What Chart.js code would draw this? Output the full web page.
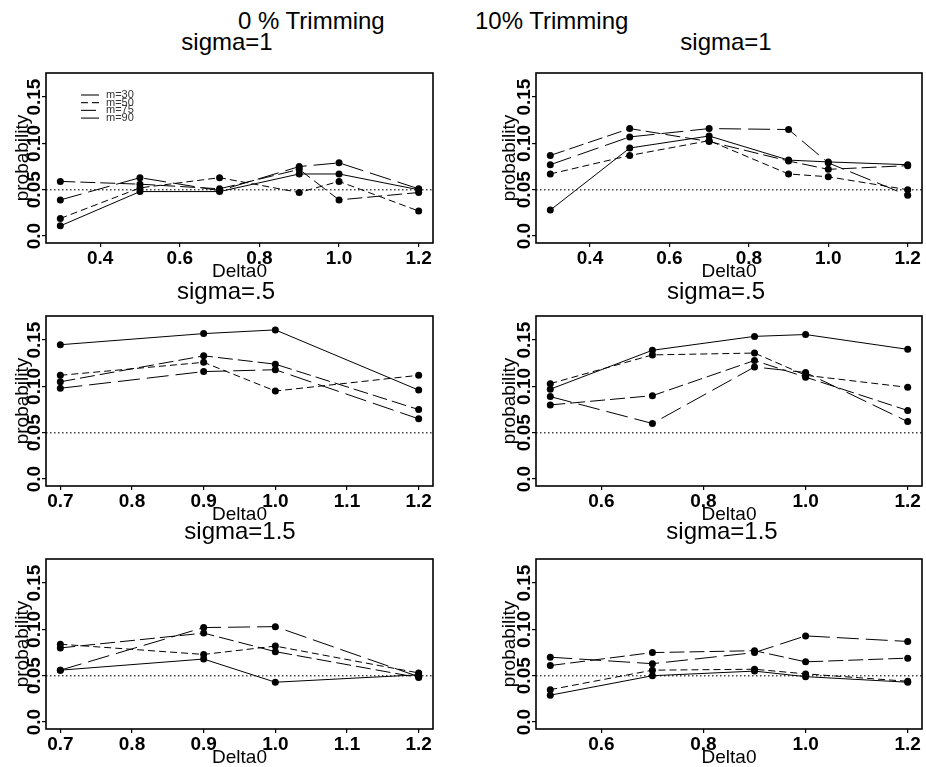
<!DOCTYPE html>
<html>
<head>
<meta charset="utf-8">
<script src="https://cdn.jsdelivr.net/npm/chart.js@4.4.1/dist/chart.umd.min.js"></script>
<style>
  body { margin: 0; background: #fff; width: 926px; height: 767px; position: relative; overflow: hidden;
         font-family: "Liberation Sans", Arial, Helvetica, sans-serif; }
  .panel { position: absolute; }
  .ttl { position: absolute; font-size: 24px; line-height: 24px; white-space: nowrap; color: #000; }
</style>
</head>
<body>
<script>
// series = sample size m
const seriesNames = ['m=30', 'm=50', 'm=75', 'm=90'];

// Delta0 values used in the panels
const deltaA = [0.3, 0.5, 0.7, 0.9, 1.0, 1.2];
const deltaB = [0.7, 0.9, 1.0, 1.2];
const deltaC = [0.5, 0.7, 0.9, 1.0, 1.2];

// x tick positions
const ticksA = [0.4, 0.6, 0.8, 1.0, 1.2];
const ticksB = [0.7, 0.8, 0.9, 1.0, 1.1, 1.2];
const ticksC = [0.6, 0.8, 1.0, 1.2];

const yTicks = [0, 0.05, 0.10, 0.15];
const yTickLabels = ['0.0', '0.05', '0.10', '0.15'];
const refLevel = 0.05;

// probabilities, one row per m (30, 50, 75, 90)
const trim0Sigma1 = [
  [0.011, 0.048, 0.048, 0.067, 0.067, 0.050],
  [0.019, 0.052, 0.063, 0.047, 0.059, 0.027],
  [0.059, 0.056, 0.051, 0.072, 0.039, 0.047],
  [0.039, 0.063, 0.049, 0.075, 0.079, 0.051]
];
const trim10Sigma1 = [
  [0.028, 0.095, 0.108, 0.082, 0.080, 0.077],
  [0.067, 0.087, 0.103, 0.067, 0.064, 0.050],
  [0.087, 0.116, 0.102, 0.081, 0.072, 0.076],
  [0.077, 0.107, 0.116, 0.115, 0.079, 0.044]
];
const trim0Sigma05 = [
  [0.145, 0.157, 0.161, 0.096],
  [0.112, 0.126, 0.095, 0.112],
  [0.105, 0.133, 0.124, 0.075],
  [0.098, 0.116, 0.118, 0.065]
];
const trim10Sigma05 = [
  [0.097, 0.139, 0.154, 0.156, 0.140],
  [0.103, 0.134, 0.136, 0.112, 0.099],
  [0.080, 0.090, 0.128, 0.110, 0.074],
  [0.089, 0.060, 0.121, 0.115, 0.062]
];
const trim0Sigma15 = [
  [0.056, 0.068, 0.043, 0.051],
  [0.084, 0.073, 0.082, 0.053],
  [0.080, 0.096, 0.076, 0.048],
  [0.056, 0.102, 0.103, 0.049]
];
const trim10Sigma15 = [
  [0.029, 0.050, 0.055, 0.049, 0.043],
  [0.035, 0.056, 0.057, 0.052, 0.044],
  [0.061, 0.075, 0.077, 0.065, 0.069],
  [0.070, 0.063, 0.075, 0.093, 0.087]
];

const seriesDash = [[], [7, 4], [15, 5], [22, 7]];

const panels = [
  { x: deltaA, vals: trim0Sigma1,   ticks: ticksA, col: 0, row: 0, title: 'sigma=1',   tx: 227, legend: true },
  { x: deltaA, vals: trim10Sigma1,  ticks: ticksA, col: 1, row: 0, title: 'sigma=1',   tx: 726 },
  { x: deltaB, vals: trim0Sigma05,  ticks: ticksB, col: 0, row: 1, title: 'sigma=.5',  tx: 226 },
  { x: deltaC, vals: trim10Sigma05, ticks: ticksC, col: 1, row: 1, title: 'sigma=.5',  tx: 716 },
  { x: deltaB, vals: trim0Sigma15,  ticks: ticksB, col: 0, row: 2, title: 'sigma=1.5', tx: 240 },
  { x: deltaC, vals: trim10Sigma15, ticks: ticksC, col: 1, row: 2, title: 'sigma=1.5', tx: 722 }
];

// page layout (px)
const colBox = [[46, 433], [536, 922]];
const rowTop = [73, 316, 559];
const titleBase = [50, 299, 539];
const boxH = 170, padTop = 8, axisH = 42, colW = 463;
const yTitleX = [23, 510];

const font = '"Liberation Sans", Arial, Helvetica, sans-serif';

const frame = {
  id: 'frame',
  afterDatasetsDraw(chart) {
    const { ctx, chartArea: a } = chart;
    ctx.save();
    ctx.strokeStyle = '#000';
    ctx.lineWidth = 1.6;
    ctx.strokeRect(a.left, a.top, a.right - a.left, a.bottom - a.top);
    ctx.restore();
  }
};

const mLegend = {
  id: 'mLegend',
  afterDraw(chart, args, opts) {
    if (!opts.show) return;
    const { ctx, chartArea: a } = chart;
    ctx.save();
    ctx.font = '11px ' + font;
    ctx.textBaseline = 'middle';
    ctx.fillStyle = '#333';
    seriesNames.forEach((name, i) => {
      const y = a.top + 22 + i * 7.7;
      ctx.strokeStyle = '#222';
      ctx.lineWidth = 1.2;
      ctx.setLineDash(chart.data.datasets[i].borderDash);
      ctx.beginPath();
      ctx.moveTo(a.left + 35, y);
      ctx.lineTo(a.left + 53, y);
      ctx.stroke();
      ctx.setLineDash([]);
      ctx.fillText(name, a.left + 60, y);
    });
    ctx.restore();
  }
};

function header(text, left, baseline) {
  const d = document.createElement('div');
  d.className = 'ttl';
  d.textContent = text;
  d.style.left = left + 'px';
  d.style.top = (baseline - 20) + 'px';
  document.body.appendChild(d);
  return d;
}

header('0 % Trimming', 238, 29);
header('10% Trimming', 475, 29);

panels.forEach(p => {
  const left = p.col * colW;
  const top = rowTop[p.row] - padTop;
  const W = colW, H = padTop + boxH + axisH;
  const boxL = colBox[p.col][0] - left;
  const boxR = colBox[p.col][1] - left;

  const t = header(p.title, 0, titleBase[p.row]);
  t.style.left = p.tx + 'px';
  t.style.transform = 'translateX(-50%)';

  const wrap = document.createElement('div');
  wrap.className = 'panel';
  wrap.style.cssText = `left:${left}px;top:${top}px;width:${W}px;height:${H}px`;
  const cv = document.createElement('canvas');
  wrap.appendChild(cv);
  document.body.appendChild(wrap);

  const first = p.x[0], last = p.x[p.x.length - 1];
  const ext = 0.04 * (last - first);
  const xMin = first - ext, xMax = last + ext;

  const datasets = p.vals.map((v, i) => ({
    label: seriesNames[i],
    data: p.x.map((d, j) => ({ x: d, y: v[j] })),
    borderColor: '#000',
    borderWidth: 1,
    borderDash: seriesDash[i],
    pointRadius: 3.5,
    pointBackgroundColor: '#000',
    pointBorderWidth: 0,
    tension: 0
  }));
  datasets.push({
    label: 'ref',
    data: [{ x: xMin, y: refLevel }, { x: xMax, y: refLevel }],
    borderColor: '#444',
    borderWidth: 1.4,
    borderDash: [1.5, 2.5],
    pointRadius: 0
  });

  new Chart(cv, {
    type: 'line',
    data: { datasets },
    plugins: [frame, mLegend],
    options: {
      responsive: true,
      maintainAspectRatio: false,
      animation: false,
      events: [],
      layout: { padding: { left: 0, right: W - boxR, top: padTop, bottom: 0 } },
      plugins: {
        legend: { display: false },
        tooltip: { enabled: false },
        mLegend: { show: !!p.legend }
      },
      scales: {
        x: {
          type: 'linear',
          min: xMin,
          max: xMax,
          bounds: 'data',
          afterBuildTicks: s => { s.ticks = p.ticks.map(v => ({ value: v })); },
          afterFit: s => { s.height = axisH; },
          ticks: {
            callback: v => v.toFixed(1),
            color: '#000',
            font: { family: font, size: 19, weight: 'bold' },
            padding: 0,
            maxRotation: 0,
            autoSkip: false
          },
          grid: { drawOnChartArea: false, drawTicks: true, tickLength: 4, color: '#000', lineWidth: 1.2 },
          border: { display: false },
          title: {
            display: true,
            text: 'Delta0',
            color: '#000',
            font: { family: font, size: 19, lineHeight: 1.2 },
            padding: { top: 0, bottom: 2 }
          }
        },
        y: {
          type: 'linear',
          min: -0.0075,
          max: 0.176,
          bounds: 'data',
          afterBuildTicks: s => { s.ticks = yTicks.map(v => ({ value: v })); },
          afterFit: s => { s.width = boxL; },
          ticks: {
            callback: (v, i) => yTickLabels[i],
            color: '#000',
            font: { family: font, size: 19, weight: 'bold' },
            minRotation: 90,
            maxRotation: 90,
            crossAlign: 'center',
            padding: -11.5,
            autoSkip: false
          },
          grid: { drawOnChartArea: false, drawTicks: true, tickLength: 4, color: '#000', lineWidth: 1.2 },
          border: { display: false },
          title: {
            display: true,
            text: 'probability',
            color: '#000',
            font: { family: font, size: 19, lineHeight: 1.2 },
            padding: { top: yTitleX[p.col] - left - 11.4, bottom: 0 }
          }
        }
      }
    }
  });
});
</script>
</body>
</html>
